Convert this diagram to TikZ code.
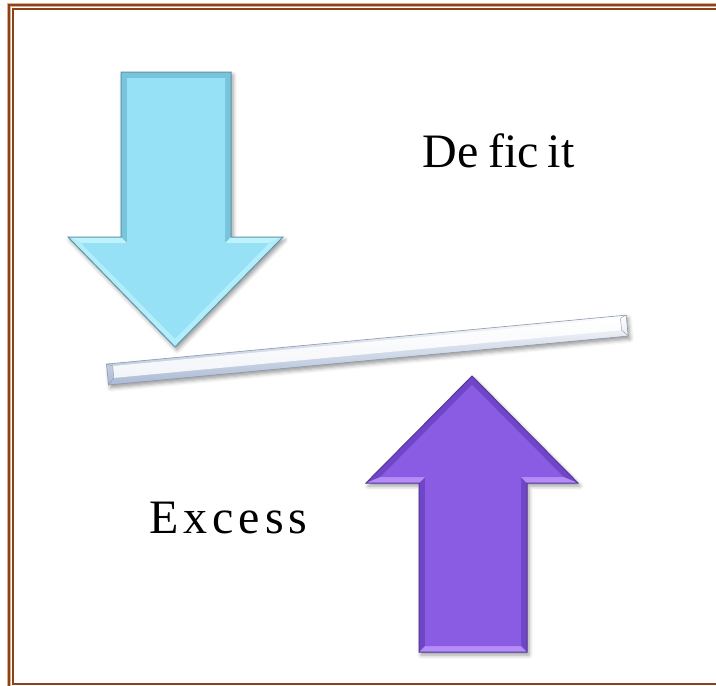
\documentclass[tikz,border=0pt]{standalone}
\usepackage{fontspec}
\setmainfont{Liberation Serif}
\usetikzlibrary{shadows.blur}

\definecolor{cornice}{RGB}{140,66,22}
\definecolor{cornicechiara}{RGB}{215,175,145}
\definecolor{blufaccia}{RGB}{150,225,245}
\definecolor{blubordo}{RGB}{95,150,170}
\definecolor{bluchiaro}{RGB}{190,242,253}
\definecolor{bluscuro}{RGB}{120,196,218}
\definecolor{violafaccia}{RGB}{138,92,228}
\definecolor{violabordo}{RGB}{85,55,150}
\definecolor{violachiaro}{RGB}{182,140,248}
\definecolor{violascuro}{RGB}{112,70,200}
\definecolor{barrabasso}{RGB}{170,186,212}
\definecolor{barrabordo}{RGB}{140,152,172}

\newcommand{\frecciagiu}{(121,72) -- (231,72) -- (231,237) -- (283,237) -- (175,347) -- (68,237) -- (121,237) -- cycle}
\newcommand{\frecciasu}{(419,652) -- (527,652) -- (527,483) -- (578,483) -- (472,376) -- (366,483) -- (419,483) -- cycle}

\begin{document}
\begin{tikzpicture}[x=1pt,y=-1pt,
  ombra/.style={blur shadow={shadow xshift=2pt,shadow yshift=-3pt,shadow blur radius=4pt,shadow opacity=40}},
  testo/.style={inner sep=0pt,anchor=base west,font=\fontsize{48}{56}\selectfont}]
\useasboundingbox (0,0) rectangle (716,686);
\clip (0,0) rectangle (716,686);

% cornice
\draw[line width=4pt, cornicechiara] (9,5) rectangle (722,689);
\draw[line width=2pt, cornice] (9,5) rectangle (722,689);
\draw[line width=2pt, cornice] (13,9) rectangle (718,684);

% freccia blu
\fill[ombra, bluscuro] \frecciagiu;
\fill[bluchiaro] (231,237) -- (283,237) -- (268.7,243) -- (225,243) -- cycle;
\fill[bluchiaro] (121,237) -- (68,237) -- (81.3,243) -- (127,243) -- cycle;
\fill[bluchiaro!70!blufaccia] (283,237) -- (175,347) -- (175,338.4) -- (268.7,243) -- cycle;
\fill[bluchiaro!70!blufaccia] (68,237) -- (175,347) -- (175,338.4) -- (81.3,243) -- cycle;
\fill[blufaccia] (127,78) -- (225,78) -- (225,243) -- (268.7,243) -- (175,338.4) -- (81.3,243) -- (127,243) -- cycle;
\draw[line width=1pt, blubordo] \frecciagiu;

% barra
\begin{scope}[shift={(107.5,374.5)}, rotate=5.38]
  \shade[ombra, top color=white, bottom color=barrabasso, draw=barrabordo, line width=0.6pt] (0,-10.5) rectangle (522,10.5);
  \shade[top color=white, bottom color=white!85!barrabasso] (6,-8) rectangle (516,4);
  \draw[barrabordo, line width=0.4pt] (0,-10.5) -- (6,-8) -- (6,4) -- (0,10.5);
  \draw[barrabordo, line width=0.4pt] (522,-10.5) -- (516,-8) -- (516,4) -- (522,10.5);
\end{scope}

% freccia viola
\fill[ombra, violascuro] \frecciasu;
\fill[violachiaro] (419,652) -- (527,652) -- (521,646) -- (425,646) -- cycle;
\fill[violachiaro] (527,483) -- (578,483) -- (563.6,477) -- (521,477) -- cycle;
\fill[violachiaro] (419,483) -- (366,483) -- (380.4,477) -- (425,477) -- cycle;
\fill[violafaccia] (425,646) -- (521,646) -- (521,477) -- (563.6,477) -- (472,384.6) -- (380.4,477) -- (425,477) -- cycle;
\draw[line width=1pt, violabordo] \frecciasu;

% testi
\node[testo] (deficit) at (422,167) {D\kern1pt e\hspace{9pt}fic\hspace{9pt}it};
\node[testo] (excess) at (149,533) {E\kern5pt x\kern5pt c\kern5pt e\kern5pt s\kern5pt s};

\end{tikzpicture}
\end{document}
